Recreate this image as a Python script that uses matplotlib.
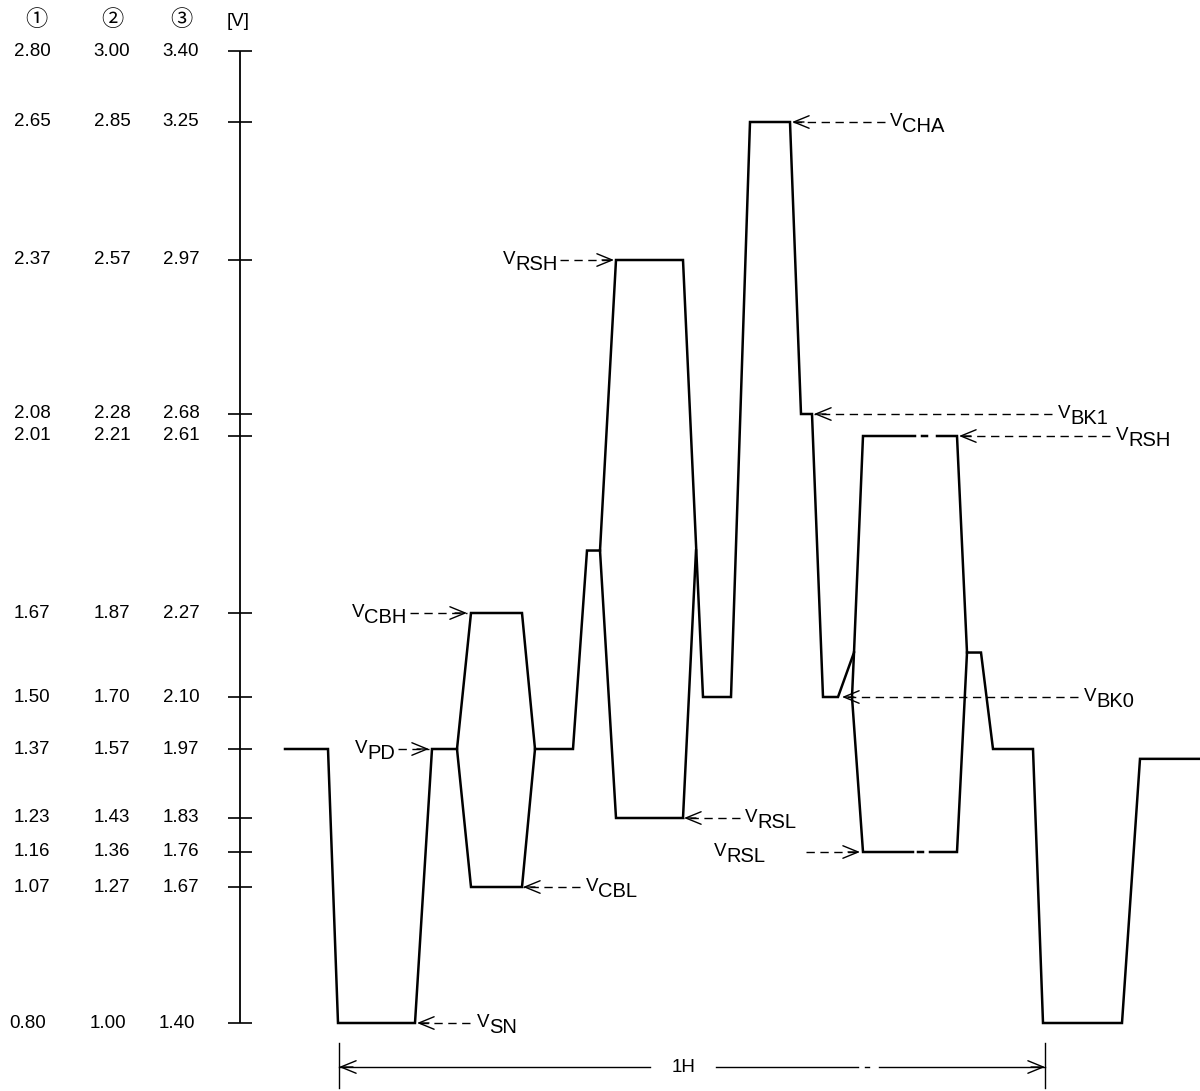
import numpy as np
import matplotlib
matplotlib.use("Agg")
import matplotlib.pyplot as plt

# ---------------- data ----------------
# tick levels, three supply-voltage columns (column 1 used as the y value)
col1 = ["2.80", "2.65", "2.37", "2.08", "2.01", "1.67", "1.50", "1.37", "1.23", "1.16", "1.07", "0.80"]
col2 = ["3.00", "2.85", "2.57", "2.28", "2.21", "1.87", "1.70", "1.57", "1.43", "1.36", "1.27", "1.00"]
col3 = ["3.40", "3.25", "2.97", "2.68", "2.61", "2.27", "2.10", "1.97", "1.83", "1.76", "1.67", "1.40"]
headers = ["\u2460", "\u2461", "\u2462", "[V]"]
levels = [float(s) for s in col1]

nan = np.nan
# main waveform (time in arbitrary units, voltage in V, column 1)
upper_t = [285, 328, 338, 415, 432, 457, 471, 522, 535, 573, 587, 600, 616, 683, 703, 731,
           750, 790, 801, 812, 823, 838, 854, 863, 915, nan, 922, 927, nan, 937, 957, 967,
           981, 993, 1033, 1043, 1122, 1140, 1200]
upper_v = [1.37, 1.37, 0.80, 0.80, 1.37, 1.37, 1.67, 1.67, 1.37, 1.37, 1.79, 1.79, 2.37, 2.37, 1.50, 1.50,
           2.65, 2.65, 2.08, 2.08, 1.50, 1.50, 1.59, 2.01, 2.01, nan, 2.01, 2.01, nan, 2.01, 2.01, 1.59,
           1.59, 1.37, 1.37, 0.80, 0.80, 1.35, 1.35]
# alternative (low) paths of the waveform
lower_t = [457, 471, 522, 535, nan, 600, 616, 683, 696, nan, 854, 852, 863, 913, nan, 918, 923, nan,
           930, 957, 967]
lower_v = [1.37, 1.07, 1.07, 1.37, nan, 1.79, 1.23, 1.23, 1.79, nan, 1.59, 1.50, 1.16, 1.16, nan, 1.16,
           1.16, nan, 1.16, 1.16, 1.59]

# annotations: (subscript, text x, arrow start x, arrow tip x, level)
ann_sub = ["CBH", "PD", "RSH", "CHA", "BK1", "RSH", "BK0", "RSL", "RSL", "CBL", "SN"]
ann_text_x = [352, 355, 503, 890, 1058, 1116, 1084, 745, 714, 586, 477]
ann_from_x = [410, 398, 560, 885, 1052, 1110, 1078, 740, 806, 580, 470]
ann_tip_x = [467, 429, 614, 792, 814, 959, 842, 684, 860, 523, 417]
ann_level = [1.67, 1.37, 2.37, 2.65, 2.08, 2.01, 1.50, 1.23, 1.16, 1.07, 0.80]

period_label = "1H"
period_start, period_end = 339, 1045

# ---------------- schematic (non-uniform) voltage scale ----------------
knot_v = np.array([0.50, 0.80, 1.07, 1.16, 1.23, 1.37, 1.50, 1.67, 2.01, 2.08, 2.37, 2.65, 2.80, 3.10])
knot_p = np.array([1174, 1023, 887, 852, 818, 749, 697, 613, 436, 414, 260, 122, 51, -91], float)


def fwd(v):
    return -np.interp(v, knot_v, knot_p)


def inv(p):
    return np.interp(p, -knot_p, knot_v)


H = 1091.0
fig = plt.figure(figsize=(12, 10.91), dpi=100)
ax = fig.add_axes([0, 0, 1, 1])
ax.set_xlim(0, 1200)
ax.set_yscale("function", functions=(fwd, inv))
ax.set_ylim(inv(-H), inv(0))
ax.axis("off")

FONT = ["Liberation Sans", "DejaVu Sans"]
PX = 0.72  # points per pixel at 100 dpi

# vertical axis with ticks
ax.plot([240, 240], [levels[-1], levels[0]], color="k", lw=1.3, solid_capstyle="butt")
for lv in levels:
    ax.plot([228, 252], [lv, lv], color="k", lw=1.2, solid_capstyle="butt")

# column labels
col_x = [32, 112, 181]
for i, lv in enumerate(levels):
    dx = -4 if i == len(levels) - 1 else 0
    for cx, col in zip(col_x, (col1, col2, col3)):
        ax.text(cx + dx, lv, col[i], ha="center", va="center", fontsize=13.5, family=FONT)

tx = ax.get_xaxis_transform()
for hx, h in zip([36, 112, 181], headers[:3]):
    ax.text(hx, 1 - 20 / H, h, ha="center", va="center", fontsize=16, transform=tx,
            family=["Noto Sans CJK JP", "DejaVu Sans"])
ax.text(238, 1 - 22 / H, headers[3], ha="center", va="center", fontsize=13.5, transform=tx, family=FONT)

# waveform
ax.plot(upper_t, upper_v, color="k", lw=1.8, solid_joinstyle="miter")
ax.plot(lower_t, lower_v, color="k", lw=1.8, solid_joinstyle="miter")

# annotations with dashed arrows
for sub, xt, x0, x1, lv in zip(ann_sub, ann_text_x, ann_from_x, ann_tip_x, ann_level):
    ax.annotate("V", xy=(xt, lv), xytext=(0, -4 * PX), textcoords="offset points",
                ha="left", va="baseline", fontsize=13.5, family=FONT)
    ax.annotate(sub, xy=(xt, lv), xytext=(12 * PX, -10 * PX), textcoords="offset points",
                ha="left", va="baseline", fontsize=14.5, family=FONT)
    ax.plot([x0, x1], [lv, lv], color="k", lw=1.0, ls=(0, (6, 4)))
    back = x1 + (12 if x0 > x1 else -12)
    ax.annotate("", xy=(x1, lv), xytext=(back, lv),
                arrowprops=dict(arrowstyle="->,head_length=1.1,head_width=0.45", mutation_scale=10,
                                lw=1.0, color="k", shrinkA=0, shrinkB=0))

# 1H period dimension
yb = 1 - 1067 / H
for xx in (period_start, period_end):
    ax.plot([xx, xx], [1 - 1043 / H, 1 - 1088 / H], color="k", lw=1.0, transform=tx)
ax.plot([period_start, 650], [yb, yb], color="k", lw=1.0, transform=tx)
ax.plot([716, 858], [yb, yb], color="k", lw=1.0, transform=tx)
ax.plot([865, 869], [yb, yb], color="k", lw=1.0, transform=tx)
ax.plot([879, period_end], [yb, yb], color="k", lw=1.0, transform=tx)
for tip, back in ((period_start, period_start + 14), (period_end, period_end - 14)):
    ax.annotate("", xy=(tip, yb), xytext=(back, yb), xycoords=tx, textcoords=tx,
                arrowprops=dict(arrowstyle="->,head_length=1.1,head_width=0.45", mutation_scale=10,
                                lw=1.0, color="k", shrinkA=0, shrinkB=0))
ax.text(684, yb, period_label, ha="center", va="center", fontsize=13.5, transform=tx, family=FONT)

fig.savefig("out.png", dpi=100, facecolor="white")
